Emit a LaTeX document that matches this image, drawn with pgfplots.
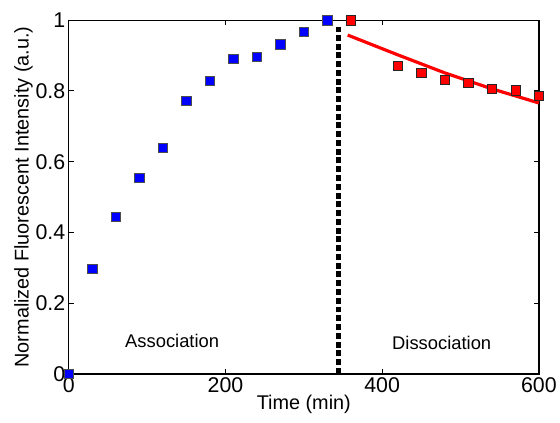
\documentclass[border=0pt]{standalone}
\usepackage{pgfplots}
\pgfplotsset{compat=1.18}
\usepackage{fontspec}
\setmainfont{Liberation Sans}

\begin{document}
\begin{tikzpicture}
\begin{axis}[name=ax,
  scale only axis, width=472bp, height=355bp,
  xmin=0, xmax=600, ymin=0, ymax=1,
  xtick={0,200,400,600}, ytick={0,0.2,0.4,0.6,0.8,1},
  tick align=inside, major tick length=5bp,
  axis line style={line width=1.4bp},
  tick style={black, line width=1bp},
  /pgf/number format/assume math mode=true,
  ticklabel style={font=\fontsize{21.5}{24}\selectfont},
  label style={font=\fontsize{20}{24}\selectfont},
  xlabel={Time (min)}, ylabel={Normalized Fluorescent Intensity (a.u.)},
  xlabel style={yshift=4bp}, ylabel style={yshift=-4bp},
  clip=false]
  % separation line
  \addplot[black, line width=4.5bp, dash pattern=on 6bp off 2.8bp] coordinates {(344,0) (344,0.98)};
  % association data
  \addplot[only marks, mark=square*, mark size=4.6bp,
    mark options={fill=blue, draw=black!70, line width=0.6bp}] coordinates {
    (0,0) (30,0.296) (60,0.444) (90,0.554) (120,0.639) (150,0.772)
    (180,0.828) (210,0.891) (240,0.896) (270,0.932) (300,0.967) (330,1.0)};
  % fit for dissociation
  \addplot[red, line width=3.2bp] coordinates {
    (356,0.958) (420,0.902) (480,0.851) (540,0.806) (600,0.766)};
  % dissociation data
  \addplot[only marks, mark=square*, mark size=4.6bp,
    mark options={fill=red, draw=black!85, line width=0.6bp}] coordinates {
    (360,1.0) (420,0.871) (450,0.851) (480,0.832) (510,0.824)
    (540,0.807) (570,0.802) (600,0.786)};
  \node[font=\fontsize{18.5}{22}\selectfont] at (axis cs:132,0.094) {Association};
  \node[font=\fontsize{18.5}{22}\selectfont] at (axis cs:476,0.087) {Dissociation};
\end{axis}
\path[use as bounding box] (ax.south west) ++(-69bp,-48.7bp) rectangle ++(560bp,424bp);
\end{tikzpicture}
\end{document}
